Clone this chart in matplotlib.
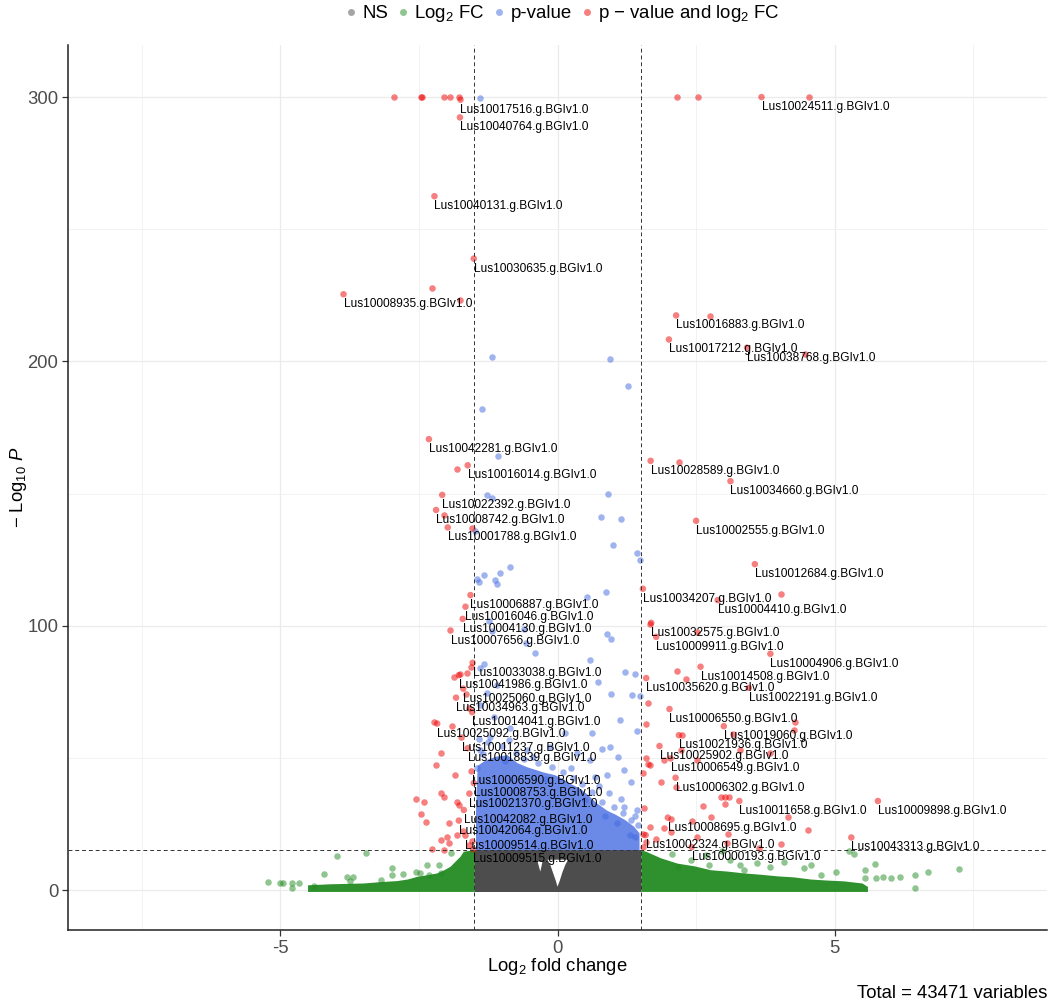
import matplotlib
matplotlib.use('Agg')
import matplotlib.pyplot as plt
from matplotlib.lines import Line2D

plt.rcParams['font.family'] = ['Liberation Sans', 'DejaVu Sans']
plt.rcParams['mathtext.fontset'] = 'custom'
plt.rcParams['mathtext.rm'] = 'Liberation Sans'
plt.rcParams['mathtext.it'] = 'Liberation Sans:italic'
plt.rcParams['axes.unicode_minus'] = False

# ---------------- data ----------------
fc_cut = 1.5
p_cut = 15
total_vars = 43471

# labelled genes (log2FC, -log10 P)
lab_names = ['Lus10017516', 'Lus10040764', 'Lus10040131', 'Lus10030635', 'Lus10008935',
             'Lus10024511', 'Lus10016883', 'Lus10017212', 'Lus10038768', 'Lus10042281',
             'Lus10016014', 'Lus10028589', 'Lus10034660', 'Lus10022392', 'Lus10008742',
             'Lus10001788', 'Lus10002555', 'Lus10012684', 'Lus10034207', 'Lus10004410',
             'Lus10006887', 'Lus10016046', 'Lus10004130', 'Lus10007656', 'Lus10032575',
             'Lus10009911', 'Lus10004906', 'Lus10014508', 'Lus10035620', 'Lus10022191',
             'Lus10006550', 'Lus10019060', 'Lus10021936', 'Lus10025902', 'Lus10006549',
             'Lus10006302', 'Lus10011658', 'Lus10009898', 'Lus10008695', 'Lus10002324',
             'Lus10043313', 'Lus10000193', 'Lus10033038', 'Lus10041986', 'Lus10025060',
             'Lus10034963', 'Lus10014041', 'Lus10025092', 'Lus10011237', 'Lus10018839',
             'Lus10006590', 'Lus10008753', 'Lus10021370', 'Lus10042082', 'Lus10042064',
             'Lus10009514', 'Lus10009515']
lab_x = [-1.75, -1.76, -2.22, -1.51, -3.86,
         3.68, 2.14, 2.01, 3.42, -2.32,
         -1.62, 1.68, 3.12, -2.08, -2.19,
         -1.98, 2.50, 3.56, 1.54, 2.89,
         -1.57, -1.66, -1.71, -1.93, 1.69,
         1.78, 3.84, 2.58, 1.60, 3.45,
         2.02, 3.00, 2.19, 1.84, 2.04,
         2.13, 3.28, 5.78, 1.99, 1.59,
         5.30, 2.42, -1.53, -1.78, -1.70,
         -1.83, -1.54, -2.17, -1.73, -1.62,
         -1.55, -1.51, -1.59, -1.69, -1.78,
         -1.66, -1.52]
lab_y = [299.0, 292.3, 262.5, 238.9, 225.4,
         300.0, 217.4, 208.3, 205.2, 170.6,
         160.7, 162.4, 154.7, 149.5, 143.8,
         137.2, 139.7, 123.3, 114.0, 109.7,
         111.6, 107.2, 102.6, 98.2, 101.1,
         95.8, 89.4, 84.5, 80.2, 76.5,
         68.5, 62.0, 58.6, 54.5, 49.8,
         42.5, 33.7, 33.7, 27.4, 20.8,
         19.9, 16.3, 86.0, 81.3, 76.2,
         72.8, 67.3, 63.0, 57.7, 53.7,
         44.9, 40.5, 36.5, 30.3, 26.3,
         20.6, 15.4]
lab_suffix = '.g.BGIv1.0'

# other significant genes (p-value and log2 FC)
red_x = [-2.95, -2.46, -2.44, -2.04, -1.94, -1.78, 2.15, 2.54, 4.54,
         -2.26, -1.75, 2.75, 4.46, -1.81, 2.19, -2.05, -1.55, 4.04, 1.66, 2.52,
         2.16, 2.31, 1.63, 1.59, 4.28, 4.27, 3.16, 2.25, 2.22, 3.29, 3.84, 1.59,
         1.63, 1.66, 1.93, 2.52, 1.54, 1.87, 2.13, 2.95, 3.03, 3.09, 2.63, 3.03,
         1.56, 4.16, 2.76, 2.05, 2.43, 1.66, 1.92, 4.52, 2.05, 3.08, 1.54, 1.78,
         2.52, 1.59, 3.06, 4.04, 3.63, 1.54,
         -1.87, -1.75, -1.63, -1.90, -2.11, -2.20, -1.84, -2.11, -2.05, -2.40,
         -1.82, -1.78, -1.96, -2.38, -1.81, -1.99, -2.11, -1.96, -2.26, -2.05,
         -1.60, -1.55, -1.70, -2.55, -2.47, -2.23, -1.56, -1.65, -1.60]
red_y = [300.0, 300.0, 300.0, 300.0, 300.0, 300.0, 300.0, 300.0, 300.0,
         227.9, 223.2, 217.0, 202.9, 159.3, 162.0, 141.9, 136.8, 112.0, 100.5, 97.7,
         82.7, 79.9, 70.9, 63.0, 63.4, 60.5, 59.2, 58.6, 53.0, 53.0, 51.7, 50.0,
         47.7, 47.3, 49.4, 49.2, 44.4, 40.9, 39.1, 35.3, 35.3, 35.3, 31.8, 32.5,
         30.9, 27.7, 27.7, 27.0, 26.2, 23.7, 23.3, 22.7, 22.0, 21.2, 21.3, 19.5,
         19.9, 18.2, 17.9, 17.6, 16.0, 16.4,
         80.7, 81.7, 82.0, 62.0, 51.7, 47.3, 43.5, 36.6, 35.3, 33.4,
         33.4, 32.2, 25.2, 25.8, 20.8, 20.2, 18.9, 17.9, 15.7, 15.2,
         17.0, 18.5, 22.5, 34.5, 28.8, 63.5, 84.5, 74.0, 69.0]

# p-value only genes (scattered)
blue_x = [-1.39, -1.18, 0.94, 1.27, -1.37, -1.08, -1.28, -1.18, 0.91, -1.48, 0.78,
          1.15, 1.00, 1.44, 1.49, -0.85, -1.33, -1.03, -1.45, -1.42, -1.13, -1.10,
          0.53, 0.88, -1.24, -1.18, -0.61, 0.89, 0.97, -0.56, -0.40, 0.58, -1.33,
          -1.39, 1.39, 1.22, 0.73, 0.97, 1.35, 1.48, 1.12, 0.62, 1.44, 0.80, 0.95,
          1.10, 0.90, 1.20, 1.32, 0.92, -1.21, -0.88, -1.39, -1.15, -0.85, -0.55,
          -1.27, -1.09, -1.39, 0.14, -0.13, 0.35, 0.59, 0.68, 1.20, 1.44, 1.08, 1.39,
          -1.35, -1.00, -0.75, -0.60, -0.35, -0.10, 0.10, 0.28, 0.45, 0.62, 0.80,
          1.02, 1.18, 1.33, 1.45, -0.95, -0.20, 0.50, 1.30, 0.85, -1.42, -1.25,
          -0.45, 0.25, 0.75, 1.15, -1.45, 1.40]
blue_y = [299.5, 201.8, 200.9, 190.7, 182.0, 164.2, 149.4, 148.5, 149.7, 135.8, 141.2,
          140.3, 130.4, 127.6, 124.7, 122.2, 119.3, 119.8, 117.5, 116.4, 117.3, 115.8,
          111.0, 112.9, 101.7, 98.0, 98.7, 97.0, 94.8, 93.3, 89.7, 87.0, 85.4,
          83.9, 81.6, 82.5, 78.8, 74.0, 73.8, 73.5, 64.5, 59.5, 60.2, 53.2, 54.2,
          50.4, 43.5, 45.4, 41.0, 36.6, 58.0, 56.8, 53.0, 65.5, 61.2, 53.0,
          74.4, 77.6, 70.0, 59.3, 54.2, 51.7, 49.2, 42.9, 31.5, 30.3, 25.2, 20.2,
          51.5, 54.5, 52.0, 49.5, 48.0, 46.5, 44.5, 42.5, 40.0, 37.0, 33.5,
          31.5, 29.0, 26.5, 24.5, 49.0, 42.0, 34.0, 21.0, 28.0, 57.0, 56.0,
          50.5, 46.0, 39.5, 34.5, 46.0, 28.0]

# dense p-value-only core (outline)
blue_core_x = [-1.47, -1.47, -1.44, -1.30, -1.10, -0.90, -0.72, -0.55, -0.40, -0.25, -0.05,
               0.10, 0.25, 0.40, 0.55, 0.70, 0.90, 1.05, 1.22, 1.38, 1.48, 1.48]
blue_core_y = [15.0, 30.0, 47.0, 49.0, 50.5, 51.0, 48.0, 46.5, 45.5, 44.5, 43.5,
               42.0, 40.0, 38.5, 36.0, 33.0, 30.0, 28.5, 26.5, 24.0, 21.5, 15.0]

# dense log2 FC-only bands (outline)
green_left_x = [-4.50, -4.50, -4.09, -3.49, -3.20, -2.89, -2.70, -2.53, -2.35, -2.17,
                -2.05, -1.93, -1.85, -1.75, -1.69, -1.60, -1.49, -1.49]
green_left_y = [-0.7, 1.8, 2.2, 2.5, 3.0, 3.4, 4.0, 5.0, 5.6, 6.3,
                7.4, 8.8, 10.5, 12.6, 14.5, 14.8, 15.1, -0.7]
green_right_x = [1.51, 1.51, 1.60, 1.87, 2.17, 2.47, 2.77, 3.07, 3.37, 3.67, 3.97,
                 4.27, 4.57, 4.87, 5.17, 5.50, 5.60, 5.60]
green_right_y = [-0.7, 15.0, 14.5, 12.0, 10.0, 9.0, 7.5, 7.0, 6.3, 5.8, 5.2,
                 4.8, 4.0, 3.6, 3.3, 2.5, 1.2, -0.7]
# scattered log2 FC-only genes
green_x = [5.25, 5.34, 7.25, 6.68, 6.44, 6.44, 6.17, 6.02, 5.88, 5.75, 5.73, 5.55,
           5.55, 5.03, 4.75, 2.07, 2.40, 2.67, 3.12, 3.30, 3.60, 3.84, 4.08, 4.44,
           4.58, 2.97, 2.17, 2.73, 3.37,
           -5.22, -5.00, -4.96, -4.79, -4.79, -4.66, -4.22, -3.98, -3.46, -3.79,
           -3.69, -3.74, -3.19, -2.98, -2.98, -2.78, -2.56, -2.48, -2.35, -2.32,
           -2.14, -2.10, -1.93, -4.40]
green_y = [14.8, 13.5, 7.8, 6.9, 5.7, 0.9, 5.0, 4.6, 5.0, 4.4, 9.7, 4.5,
           7.6, 6.9, 5.7, 13.8, 11.4, 13.2, 11.4, 9.5, 10.1, 8.8, 10.7, 8.2,
           9.5, 14.6, 8.8, 9.5, 7.5,
           3.1, 2.7, 2.7, 2.7, 0.6, 2.7, 5.9, 13.0, 14.2, 5.0,
           5.0, 3.4, 4.0, 8.2, 5.7, 6.1, 6.9, 6.3, 9.5, 5.6,
           9.5, 6.5, 13.9, 1.5]

# non-significant block (outline) and its empty notch
ns_x = [-1.49, -1.49, 1.51, 1.51]
ns_y = [-0.7, 15.2, 15.2, -0.7]
notch_x = [-0.18, -0.13, -0.08, -0.03, 0.00, 0.04, 0.09, 0.14, 0.19]
notch_y = [11.5, 9.5, 6.5, 3.5, 1.3, 3.5, 6.8, 9.5, 11.5]
notch2_x = [-0.36, -0.31, -0.27]
notch2_y = [10.8, 7.0, 10.8]

# ---------------- style ----------------
c_ns, c_fc, c_p, c_both = '#4D4D4D', '#228B22', '#4169E1', '#EE0000'
pt = 22

fig = plt.figure(figsize=(10.52, 10.05), dpi=100)
ax = fig.add_axes([68 / 1052, 75 / 1005, (1047 - 68) / 1052, (930 - 45) / 1005])
ax.set_xlim(-8.83, 8.83)
ax.set_ylim(-15.1, 319.7)

ax.set_xticks([-5, 0, 5])
ax.set_xticks([-7.5, -2.5, 2.5, 7.5], minor=True)
ax.set_yticks([0, 100, 200, 300])
ax.set_yticks([50, 150, 250], minor=True)
ax.grid(which='major', color='#ebebeb', lw=0.9)
ax.grid(which='minor', color='#f0f0f0', lw=0.6)
ax.set_axisbelow(True)
for s in ['top', 'right']:
    ax.spines[s].set_visible(False)
for s in ['left', 'bottom']:
    ax.spines[s].set_color('#222222')
    ax.spines[s].set_linewidth(1.1)
ax.tick_params(which='major', direction='out', length=4, width=0.9, color='#333333',
               labelsize=13.3, labelcolor='#4d4d4d', pad=3)
ax.tick_params(which='minor', length=0)

# dense clouds
ax.fill(ns_x, ns_y, color=c_ns, lw=0, zorder=2)
ax.fill(notch_x, notch_y, color='white', lw=0, zorder=2.1)
ax.fill(notch2_x, notch2_y, color='white', lw=0, zorder=2.1)
ax.fill(green_left_x, green_left_y, color=c_fc, alpha=0.95, lw=0, zorder=2)
ax.fill(green_right_x, green_right_y, color=c_fc, alpha=0.95, lw=0, zorder=2)
ax.scatter(green_x, green_y, s=pt, color=c_fc, alpha=0.5, lw=0, zorder=3)
ax.fill(blue_core_x, blue_core_y, color=c_p, alpha=0.78, lw=0, zorder=3)
ax.scatter(blue_x, blue_y, s=pt, color=c_p, alpha=0.5, lw=0, zorder=3.5)
ax.scatter(red_x, red_y, s=pt, color=c_both, alpha=0.5, lw=0, zorder=4)

lab_cols = []
for x, y in zip(lab_x, lab_y):
    if abs(x) >= fc_cut and y >= p_cut:
        lab_cols.append(c_both)
    elif y >= p_cut:
        lab_cols.append(c_p)
    elif abs(x) >= fc_cut:
        lab_cols.append(c_fc)
    else:
        lab_cols.append(c_ns)
ax.scatter(lab_x, lab_y, s=pt, c=lab_cols, alpha=0.5, lw=0, zorder=4)

# cut-off lines
for v in (-fc_cut, fc_cut):
    ax.axvline(v, color='#333333', ls=(0, (4, 3)), lw=0.7, zorder=5)
ax.axhline(p_cut, color='#333333', ls=(0, (4, 3)), lw=0.7, zorder=5)

# labels
for n, x, y in zip(lab_names, lab_x, lab_y):
    ax.annotate(n + lab_suffix, (x, y), xytext=(0, -10), textcoords='offset pixels',
                ha='left', va='center', fontsize=8.6, color='black', zorder=6)

# titles
fig.text(557 / 1052, 1 - 966 / 1005, 'Log$_2$ fold change', ha='center', va='center',
         fontsize=13.3)
fig.text(19 / 1052, 1 - 487 / 1005, '− Log$_{10}$ $\\mathit{P}$', ha='center', va='center',
         rotation=90, fontsize=13.3)
fig.text(1047 / 1052, 1 - 993 / 1005, 'Total = %d variables' % total_vars, ha='right',
         va='center', fontsize=13.3)

# legend
leg_labels = ['NS', 'Log$_2$ FC', 'p-value', 'p − value and log$_2$ FC']
leg_cols = [c_ns, c_fc, c_p, c_both]
handles = [Line2D([], [], marker='o', ls='', ms=5, color=c, alpha=0.5, mew=0) for c in leg_cols]
fig.legend(handles, leg_labels, loc='center', bbox_to_anchor=(563 / 1052, 1 - 14 / 1005),
           ncol=4, frameon=False, fontsize=13.4, handlelength=0.5, handletextpad=0.35,
           columnspacing=0.55, borderpad=0, borderaxespad=0)

fig.savefig('out.png', dpi=100)
